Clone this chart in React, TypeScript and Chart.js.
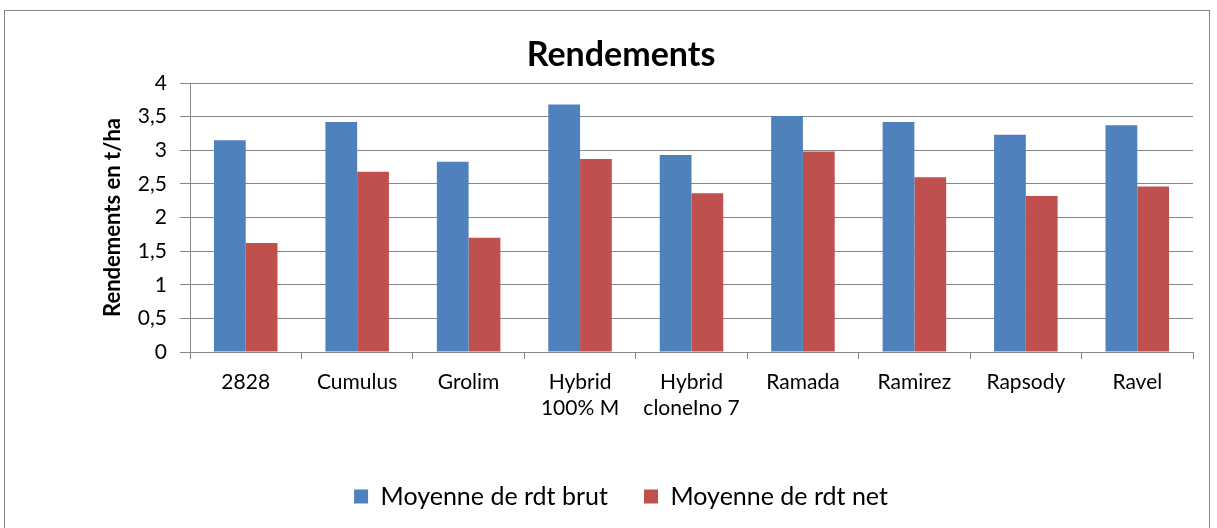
import React, { useEffect, useRef } from "react";
import { Chart, registerables } from "chart.js";

Chart.register(...registerables);

const categories: (string | string[])[] = [
  "2828",
  "Cumulus",
  "Grolim",
  ["Hybrid", "100% M"],
  ["Hybrid", "cloneIno 7"],
  "Ramada",
  "Ramirez",
  "Rapsody",
  "Ravel",
];
const rdtBrut = [3.15, 3.42, 2.83, 3.68, 2.93, 3.51, 3.42, 3.23, 3.37];
const rdtNet = [1.62, 2.68, 1.7, 2.87, 2.36, 2.98, 2.6, 2.32, 2.46];
const seriesNames = ["Moyenne de rdt brut", "Moyenne de rdt net"];
const chartTitle = "Rendements";
const yTitle = "Rendements en t/ha";

const FONT = "Lato, 'Open Sans', sans-serif";
const GRID = "#868686";

export default function App() {
  const ref = useRef<HTMLCanvasElement | null>(null);
  useEffect(() => {
    if (!ref.current) return;
    const chart = new Chart(ref.current, {
      type: "bar",
      data: {
        labels: categories,
        datasets: [
          {
            label: seriesNames[0],
            data: rdtBrut,
            backgroundColor: "#4F81BD",
            borderWidth: 0,
            categoryPercentage: 0.57,
            barPercentage: 1,
          },
          {
            label: seriesNames[1],
            data: rdtNet,
            backgroundColor: "#C0504D",
            borderWidth: 0,
            categoryPercentage: 0.57,
            barPercentage: 1,
          },
        ],
      },
      options: {
        animation: false,
        responsive: false,
        maintainAspectRatio: false,
        layout: { padding: { left: 49, right: 24, top: 0, bottom: 9 } },
        plugins: {
          title: {
            display: true,
            text: chartTitle,
            color: "#000",
            font: { family: FONT, size: 34, weight: "bold" },
            padding: { top: 34.6, bottom: 7.6 },
          },
          legend: {
            position: "bottom",
            labels: {
              color: "#000",
              font: { family: FONT, size: 25 },
              boxWidth: 14,
              boxHeight: 14,
              padding: 36,
            },
          },
          tooltip: { enabled: false },
        },
        scales: {
          x: {
            grid: {
              offset: true,
              drawOnChartArea: false,
              color: GRID,
              tickLength: 7,
            },
            border: { color: GRID, width: 1 },
            ticks: {
              color: "#000",
              font: { family: FONT, size: 21 },
              padding: 11,
              maxRotation: 0,
              autoSkip: false,
            },
            afterFit: (s: any) => {
              s.height = 96;
            },
          },
          y: {
            min: 0,
            max: 4,
            grid: { color: GRID, tickLength: 10 },
            border: { color: GRID, width: 1 },
            ticks: {
              stepSize: 0.5,
              color: "#000",
              font: { family: FONT, size: 21 },
              padding: 13,
              callback: (v: any) => String(v).replace(".", ","),
            },
            title: {
              display: true,
              text: yTitle,
              color: "#000",
              font: { family: FONT, size: 22, weight: "bold" },
              padding: { top: 51, bottom: 4 },
            },
            afterFit: (s: any) => {
              s.width = 141;
            },
          },
        },
      },
    });
    return () => chart.destroy();
  }, []);
  return (
    <div
      style={{
        position: "fixed",
        left: 0,
        top: 0,
        width: 1217,
        height: 528,
        background: "#fff",
        overflow: "hidden",
      }}
    >
      <div
        style={{
          position: "absolute",
          left: 4,
          top: 10,
          width: 1206,
          height: 540,
          border: "1px solid #868686",
          boxSizing: "border-box",
        }}
      />
      <canvas
        ref={ref}
        width={1217}
        height={528}
        style={{ position: "absolute", left: 0, top: 0 }}
      />
    </div>
  );
}
